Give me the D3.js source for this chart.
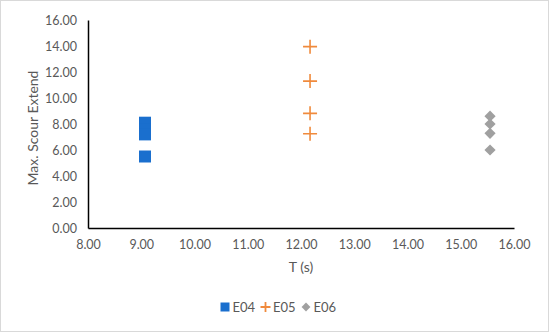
<!DOCTYPE html><html><meta charset="UTF-8">
<title>Scatter</title>
<style>
  body { margin: 0; overflow: hidden; background: #fff; }
  .tick text { font: 12.5px Lato, sans-serif; fill: #595959; }
  .title { font: 14px Lato, sans-serif; fill: #595959; }
  .legend text { font: 13px Lato, sans-serif; fill: #595959; }
</style>
<script src="https://cdn.jsdelivr.net/npm/d3@7"></script>
<body>
<svg width="550" height="334"></svg>
<script>
  var seriesNames = ["E04", "E05", "E06"],
      seriesT = [9.07, 12.17, 15.55],
      e04 = [8.1, 7.6, 7.2, 5.5],
      e05 = [13.95, 11.3, 8.82, 7.25],
      e06 = [8.6, 8.0, 7.28, 6.0],
      xTicks = [8, 9, 10, 11, 12, 13, 14, 15, 16],
      yTicks = [0, 2, 4, 6, 8, 10, 12, 14, 16],
      colors = ["#1a6fce", "#f08a3c", "#a0a0a0"];

  var svg = d3.select("svg");

  // light frame round the chart
  svg.append("rect")
      .attr("x", 0.5).attr("y", 0.5)
      .attr("width", 548).attr("height", 331)
      .attr("fill", "none")
      .attr("stroke", "#d9d9d9");

  var x = d3.scaleLinear().domain([8, 16]).range([88, 514]),
      y = d3.scaleLinear().domain([0, 16]).range([228, 20]);

  var xAxis = svg.append("g")
      .attr("transform", "translate(0," + y(0) + ")")
      .call(d3.axisBottom(x).tickValues(xTicks).tickSize(0).tickPadding(12)
        .tickFormat(d3.format(".2f")));
  xAxis.select(".domain").attr("stroke", "#000").attr("stroke-width", 1.5);

  var yAxis = svg.append("g")
      .attr("transform", "translate(" + x(8) + ",0)")
      .call(d3.axisLeft(y).tickValues(yTicks).tickSize(0).tickPadding(11)
        .tickFormat(d3.format(".2f")));
  yAxis.select(".domain").attr("stroke", "#000").attr("stroke-width", 1.5);

  svg.append("text").attr("class", "title")
      .attr("x", (x(8) + x(16)) / 2).attr("y", 272)
      .attr("text-anchor", "middle")
      .text("T (s)");

  svg.append("text").attr("class", "title")
      .attr("transform", "translate(38,128) rotate(-90)")
      .attr("text-anchor", "middle")
      .text("Max. Scour Extend");

  var sq = d3.symbol().type(d3.symbolSquare).size(144),
      plus = "M-7,0H7M0,-7V7",
      dia = d3.symbol().type(d3.symbolDiamond2).size(80);

  svg.append("g").selectAll("path").data(e04).join("path")
      .attr("transform", d => "translate(" + x(seriesT[0]) + "," + y(d) + ")")
      .attr("d", sq).attr("fill", colors[0]);

  svg.append("g").selectAll("path").data(e05).join("path")
      .attr("transform", d => "translate(" + x(seriesT[1]) + "," + y(d) + ")")
      .attr("d", plus).attr("stroke", colors[1]).attr("stroke-width", 1.6).attr("fill", "none");

  svg.append("g").selectAll("path").data(e06).join("path")
      .attr("transform", d => "translate(" + x(seriesT[2]) + "," + y(d) + ")")
      .attr("d", dia).attr("fill", colors[2]);

  // legend
  var lg = svg.append("g").attr("class", "legend");
  var lx = [225, 265.5, 306];
  var shapes = [d3.symbol().type(d3.symbolSquare).size(81)(), "M-5,0H5M0,-5V5", d3.symbol().type(d3.symbolDiamond2).size(50)()];
  seriesNames.forEach(function(n, i) {
    var g = lg.append("g").attr("transform", "translate(" + lx[i] + ",307)");
    var p = g.append("path").attr("d", shapes[i]);
    if (i == 1) p.attr("stroke", colors[i]).attr("stroke-width", 1.8).attr("fill", "none");
    else p.attr("fill", colors[i]);
    g.append("text").attr("x", 7.5).attr("dy", "0.35em").text(n);
  });
</script>
</body></html>
